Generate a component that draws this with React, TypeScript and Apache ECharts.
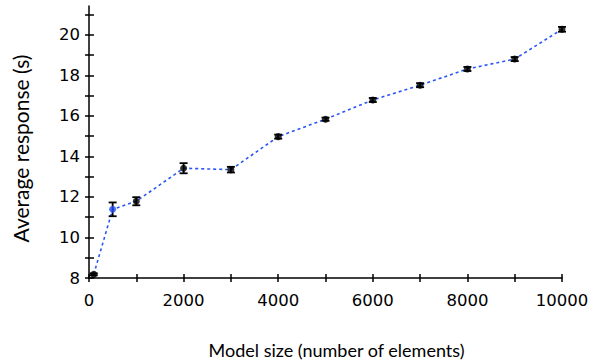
import React, { useEffect, useRef } from "react";
import * as echarts from "echarts";

const modelSizes = [100, 500, 1000, 2000, 3000, 4000, 5000, 6000, 7000, 8000, 9000, 10000];
const avgResponse = [8.18, 11.39, 11.79, 13.42, 13.35, 14.98, 15.84, 16.79, 17.52, 18.32, 18.81, 20.28];
const errors = [0.05, 0.34, 0.2, 0.25, 0.14, 0.1, 0.08, 0.1, 0.1, 0.1, 0.1, 0.12];
const highlighted = [false, true, false, false, false, false, false, false, false, false, false, false];
const xTicks = [0, 1000, 2000, 3000, 4000, 5000, 6000, 7000, 8000, 9000, 10000];
const xLabels = [0, 2000, 4000, 6000, 8000, 10000];
const yTicks = [8, 9, 10, 11, 12, 13, 14, 15, 16, 17, 18, 19, 20, 21];
const yLabels = [8, 10, 12, 14, 16, 18, 20];

const BLUE = "#1f4ef2";
const LINE_BLUE = "#2a56f5";

export default function App() {
  const ref = useRef<HTMLDivElement>(null);
  useEffect(() => {
    document.body.style.margin = "0";
    if (!ref.current) return;
    const chart = echarts.init(ref.current, null, { renderer: "svg" });
    const tickFont = { fontFamily: "DejaVu Sans", fontSize: 16.5, color: "#000" };
    const axisLine = { show: true, onZero: false, lineStyle: { color: "#000", width: 1.5 } };
    chart.setOption({
      animation: false,
      backgroundColor: "#fff",
      grid: { left: 89, right: 31, top: 6, bottom: 82, containLabel: false, outerBoundsMode: "none" },
      xAxis: [
        {
          type: "value",
          min: 0,
          max: 10000,
          interval: 1000,
          axisLine,
          splitLine: { show: false },
          axisTick: { show: true, inside: false, length: 4, customValues: xTicks, lineStyle: { color: "#000", width: 1.5 } },
          axisLabel: { show: true, margin: 14, customValues: xLabels, formatter: (v: number) => String(v), ...tickFont },
          name: "Model size (number of elements)",
          nameLocation: "middle",
          nameGap: 63,
          nameTextStyle: { fontFamily: "Lato", fontSize: 18, color: "#000", padding: [0, 0, 0, 22] },
        },
        {
          type: "value",
          min: 0,
          max: 10000,
          interval: 1000,
          position: "bottom",
          axisLine: { show: false },
          splitLine: { show: false },
          axisTick: { show: true, inside: true, length: 4, customValues: xTicks, lineStyle: { color: "#000", width: 1.5 } },
          axisLabel: { show: false },
        },
      ],
      yAxis: [
        {
          type: "value",
          min: 8,
          max: 21.43,
          axisLine,
          splitLine: { show: false },
          axisTick: { show: true, inside: false, length: 4, customValues: yTicks, lineStyle: { color: "#000", width: 1.5 } },
          axisLabel: { show: true, margin: 9, customValues: yLabels, formatter: (v: number) => String(v), ...tickFont },
          name: "Average response (s)",
          nameLocation: "middle",
          nameGap: 58,
          nameRotate: 90,
          nameTextStyle: { fontFamily: "Lato", fontSize: 21, color: "#000", padding: [0, 13, 0, 0] },
        },
        {
          type: "value",
          min: 8,
          max: 21.43,
          position: "left",
          axisLine: { show: false },
          splitLine: { show: false },
          axisTick: { show: true, inside: true, length: 5, customValues: yTicks, lineStyle: { color: "#000", width: 1.5 } },
          axisLabel: { show: false },
        },
      ],
      series: [
        {
          type: "line",
          data: modelSizes.map((x, i) => [x, avgResponse[i]]),
          symbol: "none",
          lineStyle: { color: LINE_BLUE, width: 1.6, type: [3, 3] },
          z: 2,
        },
        {
          type: "custom",
          data: modelSizes.map((x, i) => [x, avgResponse[i] - errors[i], avgResponse[i] + errors[i], highlighted[i] ? 1 : 0]),
          renderItem: (params: any, api: any) => {
            const x = api.value(0);
            const lo = api.coord([x, api.value(1)]);
            const hi = api.coord([x, api.value(2)]);
            const style = { stroke: "#000", lineWidth: 1.8 };
            const cw = 4;
            return {
              type: "group",
              children: [
                { type: "line", shape: { x1: lo[0], y1: lo[1], x2: hi[0], y2: hi[1] }, style },
                { type: "line", shape: { x1: lo[0] - cw, y1: lo[1], x2: lo[0] + cw, y2: lo[1] }, style },
                { type: "line", shape: { x1: hi[0] - cw, y1: hi[1], x2: hi[0] + cw, y2: hi[1] }, style },
              ],
            };
          },
          z: 3,
        },
        {
          type: "scatter",
          data: modelSizes.map((x, i) => ({
            value: [x, avgResponse[i]],
            itemStyle: { color: highlighted[i] ? BLUE : "#000" },
          })),
          symbol: "circle",
          symbolSize: 7,
          z: 4,
        },
      ],
    });
    return () => chart.dispose();
  }, []);
  return <div ref={ref} style={{ width: 593, height: 360 }} />;
}
